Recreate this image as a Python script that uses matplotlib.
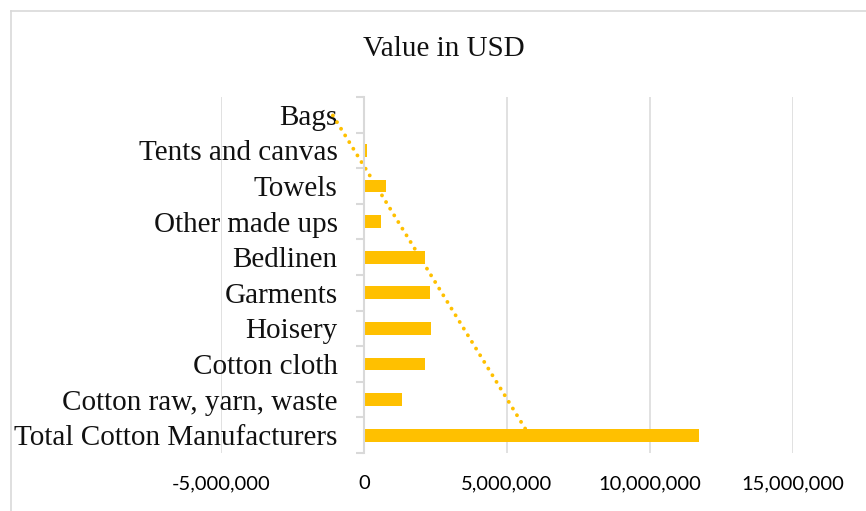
import numpy as np
import matplotlib
matplotlib.use("Agg")
import matplotlib.pyplot as plt
from matplotlib.ticker import FuncFormatter, FixedLocator
from matplotlib.lines import Line2D

categories = ["Total Cotton Manufacturers", "Cotton raw, yarn, waste", "Cotton cloth",
              "Hoisery", "Garments", "Bedlinen", "Other made ups", "Towels",
              "Tents and canvas", "Bags"]
values = [11700000, 1330000, 2120000, 2340000, 2310000, 2130000, 580000, 770000, 100000, 0]
xticks = [-5000000, 0, 5000000, 10000000, 15000000]
title = "Value in USD"

gold = "#FFC000"
grid_c = "#D9D9D9"

fig = plt.figure(figsize=(8.66, 5.11), dpi=100)
fig.patch.set_facecolor("white")

# chart border
fig.add_artist(Line2D([11/866, 1.0], [1 - 11/511, 1 - 11/511], transform=fig.transFigure,
                      color=grid_c, lw=1.2))
fig.add_artist(Line2D([11/866, 11/866], [1 - 11/511, 0.0], transform=fig.transFigure,
                      color=grid_c, lw=1.2))

ax = fig.add_axes([221/866, 1 - 453/511, (793 - 221)/866, (453 - 97)/511])
ax.set_facecolor("none")

y = np.arange(len(categories))
ax.barh(y, values, height=0.36, color=gold, zorder=3)

# linear trendline
coef = np.polyfit(y, values, 1)
ax.plot(np.polyval(coef, y), y, linestyle=(0, (0.01, 2.0)), dash_capstyle="round",
        color=gold, lw=2.8, zorder=4, solid_capstyle="round")

ax.set_xlim(xticks[0], xticks[-1])
ax.set_ylim(-0.5, len(categories) - 0.5)
ax.set_xticks(xticks)
ax.xaxis.set_major_formatter(FuncFormatter(lambda v, p: f"{int(v):,}"))
ax.grid(axis="x", color=grid_c, lw=1.1, zorder=0)
ax.set_axisbelow(True)

for s in ["top", "right", "bottom"]:
    ax.spines[s].set_visible(False)
ax.spines["left"].set_position(("data", 0))
ax.spines["left"].set_color(grid_c)
ax.spines["left"].set_linewidth(1.5)
ax.spines["left"].set_zorder(5)

ax.set_yticks(y)
ax.set_yticklabels(categories, fontfamily="Liberation Serif", fontsize=21, color="#111111")
ax.tick_params(axis="y", which="major", length=0, pad=19)
ax.yaxis.set_minor_locator(FixedLocator(np.arange(-0.5, len(categories), 1.0)))
ax.tick_params(axis="y", which="minor", length=6, width=1.5, color=grid_c, direction="out")
for lbl in ax.get_yticklabels():
    lbl.set_zorder(6)

ax.tick_params(axis="x", length=0, pad=16, labelsize=14.5, labelcolor="#000000")
for lbl in ax.get_xticklabels():
    lbl.set_fontfamily("Lato")

fig.text(444/866, 1 - 49/511, title, ha="center", va="center",
         fontfamily="Liberation Serif", fontsize=21, color="#111111")

fig.savefig("out.png", dpi=100, facecolor="white")
